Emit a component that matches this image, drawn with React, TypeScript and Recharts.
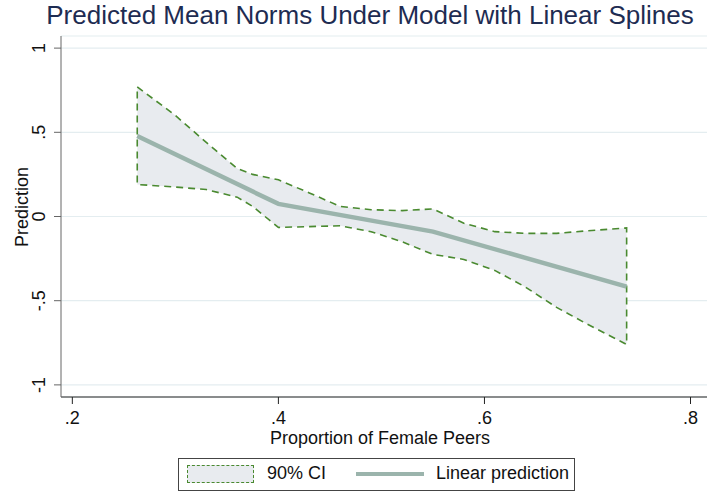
import React from "react";
import {
  ComposedChart, Area, Line, XAxis, YAxis, CartesianGrid
} from "recharts";

const X_GRID = [0.263, 0.3, 0.33, 0.36, 0.375, 0.4, 0.43, 0.46, 0.49, 0.52, 0.55, 0.58, 0.61, 0.64, 0.67, 0.7, 0.738];
const CI_HI = [0.77, 0.6, 0.44, 0.285, 0.25, 0.218, 0.14, 0.06, 0.04, 0.035, 0.045, -0.04, -0.09, -0.1, -0.1, -0.085, -0.068];
const CI_LO = [0.19, 0.175, 0.16, 0.115, 0.06, -0.065, -0.06, -0.055, -0.09, -0.15, -0.225, -0.255, -0.32, -0.42, -0.54, -0.64, -0.76];

// linear prediction at spline knots
const KNOT_X = [0.263, 0.4, 0.55, 0.738];
const PRED = [0.478, 0.075, -0.09, -0.416];

const X_TICKS = [0.2, 0.4, 0.6, 0.8];
const Y_TICKS = [-1, -0.5, 0, 0.5, 1];

const FONT = "'Liberation Sans', Arial, Helvetica, sans-serif";
const GREEN = "#4a8a30";
const BAND = "#e8ebef";
const PRED_COLOR = "#9bb4ac";

const fmt = (v: number) => {
  if (v === 0) return "0";
  const s = String(Math.abs(v)).replace(/^0/, "");
  return (v < 0 ? "-" : "") + s;
};

const bandData = X_GRID.map((x, i) => ({ x, ci: [CI_LO[i], CI_HI[i]] }));
const outline = [
  ...X_GRID.map((x, i) => ({ x, y: CI_HI[i] })),
  ...X_GRID.map((x, i) => ({ x, y: CI_LO[i] })).reverse(),
  { x: X_GRID[0], y: CI_HI[0] },
];
const predData = KNOT_X.map((x, i) => ({ x, pred: PRED[i] }));

const YTick = (props: any) => {
  const { x, y, payload } = props;
  return (
    <text
      transform={`translate(${x},${y}) rotate(-90)`}
      textAnchor="middle"
      fontFamily={FONT}
      fontSize={18}
      fill="#111"
    >
      {fmt(payload.value)}
    </text>
  );
};

const LegendBox = () => (
  <div
    style={{
      position: "absolute", left: 178, top: 458, width: 397, height: 33,
      border: "1px solid #444", boxSizing: "border-box",
      fontFamily: FONT, fontSize: 18, color: "#111", background: "#fff"
    }}
  >
    <div style={{
      position: "absolute", left: 8, top: 6, width: 67, height: 18, boxSizing: "border-box",
      background: BAND, border: `1.5px dashed ${GREEN}`
    }} />
    <span style={{ position: "absolute", left: 88, top: 4 }}>90% CI</span>
    <div style={{ position: "absolute", left: 177, top: 13, width: 68, height: 4, background: PRED_COLOR }} />
    <span style={{ position: "absolute", left: 257, top: 4 }}>Linear prediction</span>
  </div>
);

export default function App() {
  return (
    <div style={{ position: "absolute", left: 0, top: 0, width: 707, height: 493, background: "#fff" }}>
      <div style={{
        position: "absolute", left: 40, top: 0, width: 660, textAlign: "center",
        fontFamily: FONT, fontSize: 26, color: "#1e2c52", whiteSpace: "nowrap"
      }}>
        Predicted Mean Norms Under Model with Linear Splines
      </div>
      <ComposedChart width={707} height={493} margin={{ top: 36, right: 0, bottom: 66, left: 11 }}>
        <CartesianGrid horizontal vertical={false} stroke="#e4edf0" strokeWidth={1.2} />
        <XAxis
          dataKey="x" type="number" domain={[0.189, 0.816]} ticks={X_TICKS} height={30}
          allowDataOverflow tickFormatter={fmt} tickSize={7} tickMargin={7}
          stroke="#222" tick={{ fill: "#111", fontSize: 18, fontFamily: FONT }}
          label={{
            content: ({ viewBox }: any) => (
              <text x={380} y={444} textAnchor="middle"
                fontFamily={FONT} fontSize={18} fill="#111">Proportion of Female Peers</text>
            )
          }}
        />
        <YAxis
          type="number" domain={[-1.072, 1.072]} ticks={Y_TICKS} allowDataOverflow
          width={50} tickSize={7} tickMargin={9} stroke="#666" tick={<YTick />}
          label={{
            content: () => (
              <text transform="translate(28,207) rotate(-90)" textAnchor="middle"
                fontFamily={FONT} fontSize={18} fill="#111">Prediction</text>
            )
          }}
        />
        <Area data={bandData} dataKey="ci" type="linear" fill={BAND} fillOpacity={1}
          stroke="none" isAnimationActive={false} />
        <Line data={outline} dataKey="y" type="linear" stroke={GREEN} strokeWidth={1.6}
          strokeDasharray="7 5" dot={false} isAnimationActive={false} />
        <Line data={predData} dataKey="pred" type="linear" stroke={PRED_COLOR} strokeWidth={4.5}
          dot={false} isAnimationActive={false} />
      </ComposedChart>
      <LegendBox />
    </div>
  );
}
